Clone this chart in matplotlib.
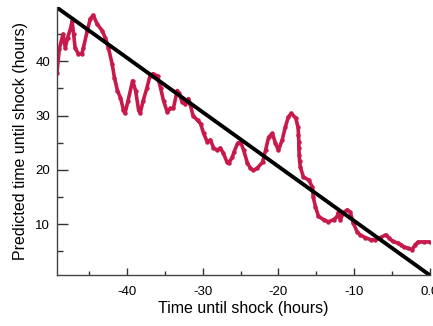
import matplotlib.pyplot as plt
from matplotlib.ticker import FixedLocator

# predicted time until shock vs actual time until shock (hours)
time_x = [-49.3, -49.0, -48.5, -48.2, -47.9, -47.5, -47.3, -47.1, -46.9, -46.5,
          -46.0, -45.8, -45.3, -44.9, -44.5, -44.0, -43.3, -42.9, -42.5, -42.0,
          -41.7, -41.3, -40.9, -40.5, -40.3, -39.9, -39.3, -38.9, -38.5, -38.3,
          -37.9, -37.4, -37.0, -36.6, -36.0, -35.6, -35.2, -34.7, -34.3, -33.9,
          -33.4, -33.2, -32.7, -32.3, -31.9, -31.7, -31.3, -30.7, -30.3, -29.9,
          -29.4, -29.0, -28.6, -28.1, -27.7, -27.3, -26.8, -26.6, -26.1, -25.9,
          -25.4, -25.0, -24.6, -24.1, -23.7, -23.3, -22.8, -22.1, -21.7, -21.3,
          -20.8, -20.4, -20.0, -19.5, -19.1, -18.7, -18.3, -17.7, -17.4, -17.35,
          -17.3, -17.3, -17.25, -17.2, -17.1, -16.7, -16.0, -15.5, -15.4, -15.1,
          -14.7, -14.0, -13.4, -12.7, -12.2, -12.1, -11.8, -11.4, -10.9, -10.5,
          -10.1, -9.6, -9.2, -8.5, -7.8, -7.2, -6.5, -5.8, -5.4, -4.9,
          -4.2, -3.8, -3.4, -2.8, -2.3, -1.9, -1.5, -0.8, 0.0]
predicted = [37.9, 42.2, 45.0, 42.5, 44.3, 46.1, 47.4, 45.0, 42.5, 41.4,
             41.4, 42.5, 45.6, 47.8, 48.5, 46.9, 45.6, 44.3, 42.5, 39.5,
             37.0, 34.6, 33.3, 31.0, 30.4, 32.7, 36.4, 34.6, 31.0, 30.4,
             32.7, 35.1, 37.3, 37.7, 37.3, 35.1, 32.7, 30.6, 31.3, 31.3,
             34.6, 34.2, 32.4, 32.2, 33.1, 32.2, 30.0, 29.1, 28.5, 26.7,
             25.1, 25.5, 24.1, 23.6, 24.0, 23.1, 21.4, 21.2, 22.3, 23.2,
             24.9, 25.1, 23.6, 21.2, 20.3, 19.9, 20.3, 21.4, 23.6, 26.0,
             26.7, 24.9, 23.6, 25.5, 27.8, 29.7, 30.4, 29.5, 27.8, 26.5,
             25.2, 24.0, 22.8, 21.6, 20.5, 18.7, 18.1, 16.8, 15.0, 13.2,
             11.4, 10.8, 10.4, 10.8, 11.4, 12.1, 10.8, 12.1, 12.6, 12.2,
             10.2, 8.6, 8.0, 7.5, 7.1, 7.1, 7.5, 8.0, 7.5, 6.8,
             6.5, 6.2, 5.8, 5.5, 5.3, 6.2, 6.7, 6.7, 6.7]

# ideal prediction line
ideal_x = [-49.3, 0.0]
ideal_y = [49.9, 0.6]

plt.rcParams['font.family'] = ['Liberation Sans', 'DejaVu Sans']

fig = plt.figure(figsize=(4.33, 3.26), dpi=100)
ax = fig.add_axes([0.1316, 0.1564, 0.8614, 0.8221])

ax.plot(time_x, predicted, color='#c8194b', lw=2.6, marker='o', ms=3.2,
        mew=0, solid_capstyle='round', solid_joinstyle='round')
ax.plot(ideal_x, ideal_y, color='black', lw=2.8, solid_capstyle='round')

ax.set_xlim(-49.3, 0.05)
ax.set_ylim(0.6, 50.0)

ax.xaxis.set_major_locator(FixedLocator([-40, -30, -20, -10, 0]))
ax.xaxis.set_minor_locator(FixedLocator([-45, -35, -25, -15, -5]))
ax.set_xticklabels(['-40', '-30', '-20', '-10', '0.0'])
ax.yaxis.set_major_locator(FixedLocator([10, 20, 30, 40]))
ax.yaxis.set_minor_locator(FixedLocator([5, 15, 25, 35, 45]))

ax.tick_params(axis='x', which='major', direction='in', length=5, width=1,
               labelsize=9.5, pad=8, colors='#333333')
ax.tick_params(axis='x', which='minor', direction='in', length=3, width=1,
               colors='#333333')
ax.tick_params(axis='y', which='major', direction='in', length=8, width=1,
               labelsize=9.5, pad=5, colors='#333333')
ax.tick_params(axis='y', which='minor', direction='in', length=4, width=1,
               colors='#333333')
for lab in ax.get_xticklabels() + ax.get_yticklabels():
    lab.set_color('black')

for side in ['top', 'right']:
    ax.spines[side].set_visible(False)
for side in ['left', 'bottom']:
    ax.spines[side].set_color('#444444')
    ax.spines[side].set_linewidth(1.0)

ax.set_xlabel('Time until shock (hours)', fontsize=11.5, labelpad=2)
ax.set_ylabel('Predicted time until shock (hours)', fontsize=11.5, labelpad=5)

fig.savefig('out.png', dpi=100)
